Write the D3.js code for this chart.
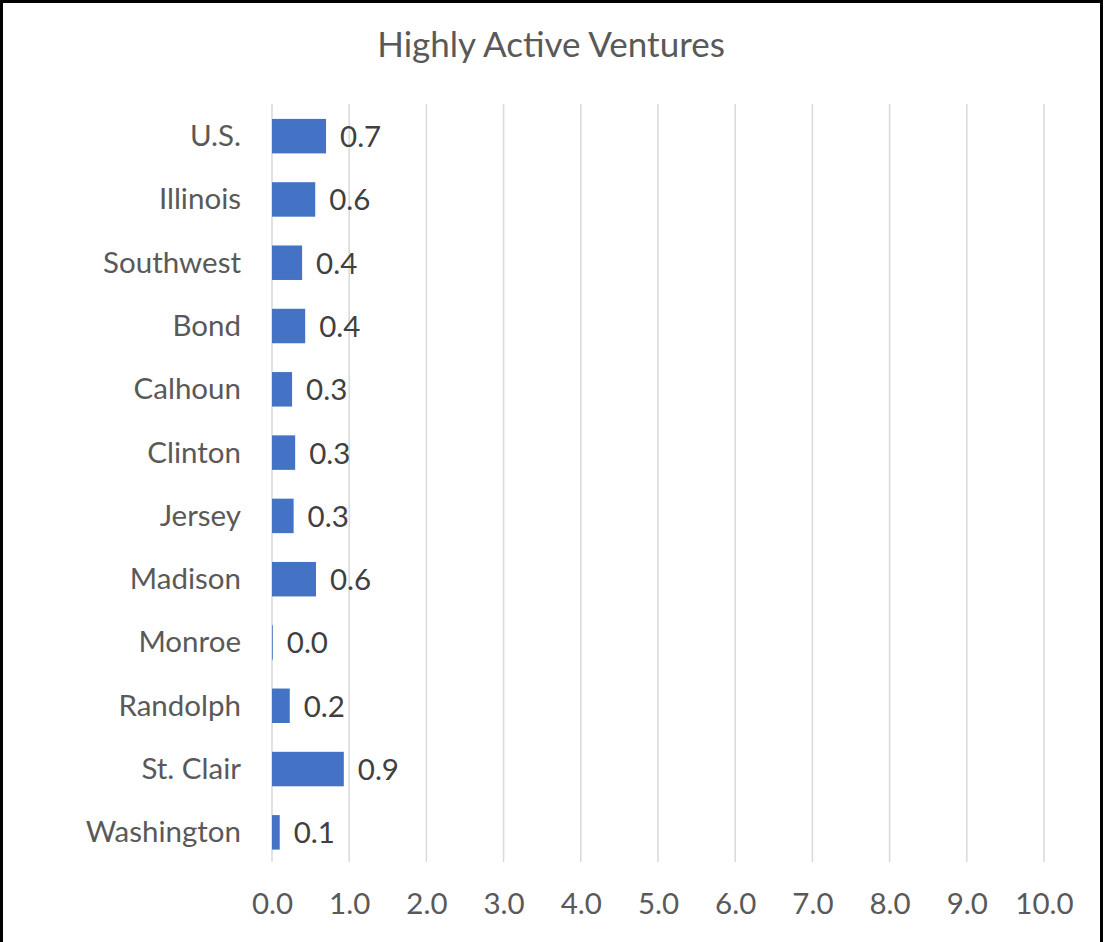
<!DOCTYPE html>
<html>
<head>
<meta charset="utf-8">
<script src="https://cdn.jsdelivr.net/npm/d3@7"></script>
<style>
  html, body { margin: 0; padding: 0; background: #fff; }
  svg { display: block; }
  text { font-family: Lato, "Open Sans", sans-serif; }
</style>
</head>
<body>
<script>
const categories = ["U.S.", "Illinois", "Southwest", "Bond", "Calhoun", "Clinton", "Jersey", "Madison", "Monroe", "Randolph", "St. Clair", "Washington"];
const values = [0.70, 0.56, 0.39, 0.43, 0.26, 0.30, 0.28, 0.57, 0.01, 0.23, 0.93, 0.10];
const valueLabels = ["0.7", "0.6", "0.4", "0.4", "0.3", "0.3", "0.3", "0.6", "0.0", "0.2", "0.9", "0.1"];
const tickValues = [0, 1, 2, 3, 4, 5, 6, 7, 8, 9, 10];
const title = "Highly Active Ventures";

const W = 1104, H = 942;
const svg = d3.select("body").append("svg").attr("width", W).attr("height", H);

svg.append("rect").attr("width", W).attr("height", H).attr("fill", "#fff");

// Border (left, top, right; bottom is cut off)
svg.append("path")
  .attr("d", `M1.5,${H} L1.5,1.5 L1101.5,1.5 L1101.5,${H}`)
  .attr("fill", "none").attr("stroke", "#000").attr("stroke-width", 3);

const x = d3.scaleLinear().domain([0, 10]).range([272, 1044]);
const y = d3.scaleBand().domain(categories).range([104.5, 864]).paddingInner(0.455).paddingOuter(0.2275);

// Gridlines
svg.append("g").selectAll("line").data(tickValues).join("line")
  .attr("x1", d => x(d)).attr("x2", d => x(d))
  .attr("y1", 104).attr("y2", 862)
  .attr("stroke", "#d9d9d9").attr("stroke-width", 1.5);

// Title
svg.append("text").attr("x", 551).attr("y", 57)
  .attr("text-anchor", "middle").attr("fill", "#595959")
  .style("font-size", "35px").text(title);

// Bars
svg.append("g").selectAll("rect").data(categories).join("rect")
  .attr("x", x(0))
  .attr("y", d => y(d))
  .attr("width", (d, i) => x(values[i]) - x(0))
  .attr("height", y.bandwidth())
  .attr("fill", "#4472c4");

// Data labels
svg.append("g").selectAll("text").data(categories).join("text")
  .attr("x", (d, i) => x(values[i]) + 14)
  .attr("y", d => y(d) + y.bandwidth() / 2 + 11)
  .attr("fill", "#404040")
  .style("font-size", "29.5px")
  .text((d, i) => valueLabels[i]);

// Category axis labels
const yAxis = d3.axisLeft(y).tickSize(0).tickPadding(0);
const gy = svg.append("g").attr("transform", "translate(241,0)").call(yAxis);
gy.select(".domain").remove();
gy.selectAll("text").attr("fill", "#595959").attr("dy", "10px").style("font-size", "29.5px")
  .style("font-family", "Lato, 'Open Sans', sans-serif");

// Value axis labels
const xAxis = d3.axisBottom(x).tickValues(tickValues).tickFormat(d3.format(".1f")).tickSize(0).tickPadding(0);
const gx = svg.append("g").attr("transform", "translate(0,914)").call(xAxis);
gx.select(".domain").remove();
gx.selectAll("text").attr("fill", "#595959").attr("dy", "0").style("font-size", "29.5px")
  .style("font-family", "Lato, 'Open Sans', sans-serif");
</script>
</body>
</html>
